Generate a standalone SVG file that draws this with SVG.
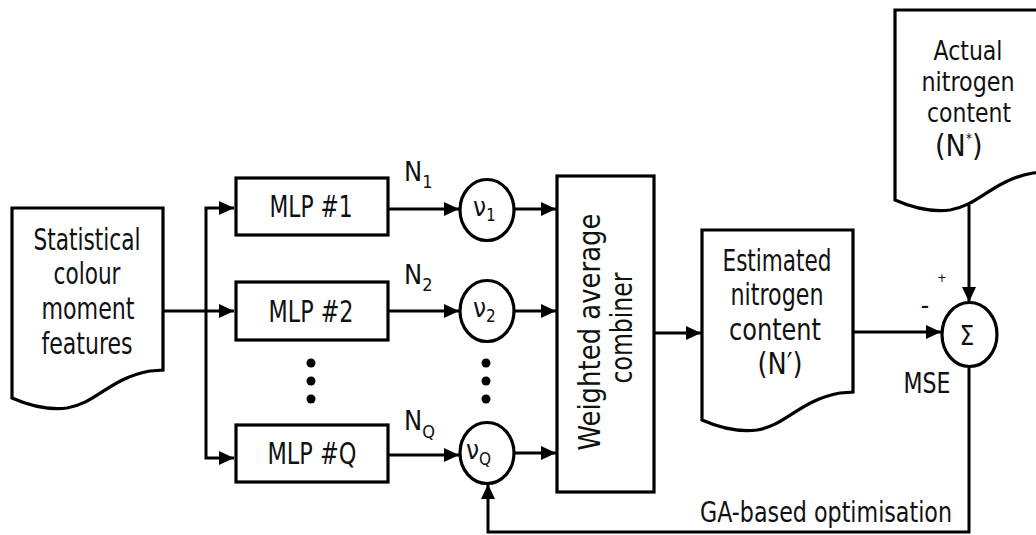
<svg xmlns="http://www.w3.org/2000/svg" width="1036" height="535" viewBox="0 0 1036 535">
<style>
.t{font-family:"DejaVu Sans Condensed","DejaVu Sans",sans-serif;fill:#111;}
.m{font-size:30px;text-anchor:middle;}
.a{font-size:26px;}
.shape{fill:#fff;stroke:#000;stroke-width:3.2;stroke-linejoin:miter;}
.ln{fill:none;stroke:#000;stroke-width:3;}
.dot{fill:#000;}
</style>
<defs>
<marker id="arr" viewBox="0 0 15 14" refX="15" refY="7" markerWidth="15" markerHeight="14" markerUnits="userSpaceOnUse" orient="auto-start-reverse">
<path d="M0,0 L15,7 L0,14 z" fill="#000"/>
</marker>
<path id="doc" d="M0,0 H151 V162 L138,163 C98,170 83,196 55,200 C38,202 18,198 0,190 Z"/>
</defs>

<g id="connectors">
<path class="ln" d="M163,311 H234" marker-end="url(#arr)"/>
<path class="ln" d="M234,208 H206 V458 H234" marker-start="url(#arr)" marker-end="url(#arr)"/>
<path class="ln" d="M388,209 H459" marker-end="url(#arr)"/>
<path class="ln" d="M388,311 H459" marker-end="url(#arr)"/>
<path class="ln" d="M388,455 H459" marker-end="url(#arr)"/>
<path class="ln" d="M514,209 H556" marker-end="url(#arr)"/>
<path class="ln" d="M514,311 H556" marker-end="url(#arr)"/>
<path class="ln" d="M514,453 H556" marker-end="url(#arr)"/>
<path class="ln" d="M655,333 H701" marker-end="url(#arr)"/>
<path class="ln" d="M854,332 H941" marker-end="url(#arr)"/>
<path class="ln" d="M969,205 V302" marker-end="url(#arr)"/>
<path class="ln" d="M969,367 V532 H488 V484" marker-end="url(#arr)"/>
</g>

<g id="input">
<use href="#doc" x="12" y="208" class="shape"/>
<text class="t m" x="87" y="250" textLength="107" lengthAdjust="spacingAndGlyphs">Statistical</text>
<text class="t m" x="87" y="284" textLength="67" lengthAdjust="spacingAndGlyphs">colour</text>
<text class="t m" x="88" y="319" textLength="93" lengthAdjust="spacingAndGlyphs">moment</text>
<text class="t m" x="87" y="354" textLength="91" lengthAdjust="spacingAndGlyphs">features</text>
</g>

<g id="mlp1">
<rect class="shape" x="236" y="178" width="152" height="57"/>
<text class="t m" x="311" y="217" textLength="83" lengthAdjust="spacingAndGlyphs">MLP #1</text>
</g>
<g id="mlp2">
<rect class="shape" x="236" y="282" width="152" height="58"/>
<text class="t m" x="311" y="322" textLength="85" lengthAdjust="spacingAndGlyphs">MLP #2</text>
</g>
<g id="mlpQ">
<rect class="shape" x="236" y="425" width="152" height="57"/>
<text class="t m" x="312" y="464" textLength="89" lengthAdjust="spacingAndGlyphs">MLP #Q</text>
</g>

<g id="dots-left">
<circle class="dot" cx="311" cy="363" r="4.5"/>
<circle class="dot" cx="311" cy="381" r="4.5"/>
<circle class="dot" cx="311" cy="399" r="4.5"/>
</g>
<g id="dots-right">
<circle class="dot" cx="486" cy="363" r="4.5"/>
<circle class="dot" cx="486" cy="381" r="4.5"/>
<circle class="dot" cx="486" cy="399" r="4.5"/>
</g>

<g id="labels-N">
<text class="t" x="404" y="181" font-size="27">N<tspan dy="7" font-size="18">1</tspan></text>
<text class="t" x="404" y="284" font-size="27">N<tspan dy="7" font-size="18">2</tspan></text>
<text class="t" x="404" y="430" font-size="27">N<tspan dy="8" font-size="18">Q</tspan></text>
</g>

<g id="nu1">
<ellipse class="shape" cx="487" cy="210" rx="27" ry="30.5"/>
<text class="t" x="473" y="216" font-size="26">ν<tspan dy="5" font-size="17">1</tspan></text>
</g>
<g id="nu2">
<ellipse class="shape" cx="487" cy="311" rx="27" ry="30.5"/>
<text class="t" x="473" y="317" font-size="26">ν<tspan dy="5" font-size="17">2</tspan></text>
</g>
<g id="nuQ">
<ellipse class="shape" cx="487" cy="453" rx="27" ry="30.5"/>
<text class="t" x="466" y="459" font-size="26">ν<tspan dy="6" font-size="17">Q</tspan></text>
</g>

<g id="combiner">
<rect class="shape" x="557" y="176" width="97" height="316"/>
<text class="t m" transform="translate(600,332) rotate(-90)" x="0" y="0" textLength="237" lengthAdjust="spacingAndGlyphs">Weighted average</text>
<text class="t m" transform="translate(632,328) rotate(-90)" x="0" y="0" textLength="111" lengthAdjust="spacingAndGlyphs">combiner</text>
</g>

<g id="estimated">
<use href="#doc" x="702" y="230" class="shape"/>
<text class="t m" x="777" y="271" textLength="109" lengthAdjust="spacingAndGlyphs">Estimated</text>
<text class="t m" x="777" y="305" textLength="93" lengthAdjust="spacingAndGlyphs">nitrogen</text>
<text class="t m" x="775" y="340" textLength="92" lengthAdjust="spacingAndGlyphs">content</text>
<text class="t m" x="780" y="374" textLength="45" lengthAdjust="spacingAndGlyphs">(N′)</text>
</g>

<g id="actual">
<use href="#doc" x="895" y="10" class="shape"/>
<text class="t m a" x="968" y="60" textLength="69" lengthAdjust="spacingAndGlyphs">Actual</text>
<text class="t m a" x="968" y="91" textLength="93" lengthAdjust="spacingAndGlyphs">nitrogen</text>
<text class="t m a" x="969" y="122" textLength="84" lengthAdjust="spacingAndGlyphs">content</text>
<text class="t" x="935" y="156" font-size="30">(N<tspan dy="-13" font-size="14">*</tspan><tspan dy="13">)</tspan></text>
</g>

<g id="sum">
<ellipse class="shape" cx="969.5" cy="334.5" rx="27.5" ry="32"/>
<text class="t" x="967" y="345" font-size="26" text-anchor="middle">Σ</text>
<text class="t" x="942" y="282" font-size="13" text-anchor="middle">+</text>
<text class="t" x="925" y="314" font-size="26" text-anchor="middle">-</text>
<text class="t" x="927" y="393" font-size="29" text-anchor="middle" textLength="47" lengthAdjust="spacingAndGlyphs">MSE</text>
</g>

<g id="feedback-label">
<text class="t" x="700" y="522" font-size="29" textLength="252" lengthAdjust="spacingAndGlyphs">GA-based optimisation</text>
</g>
</svg>
